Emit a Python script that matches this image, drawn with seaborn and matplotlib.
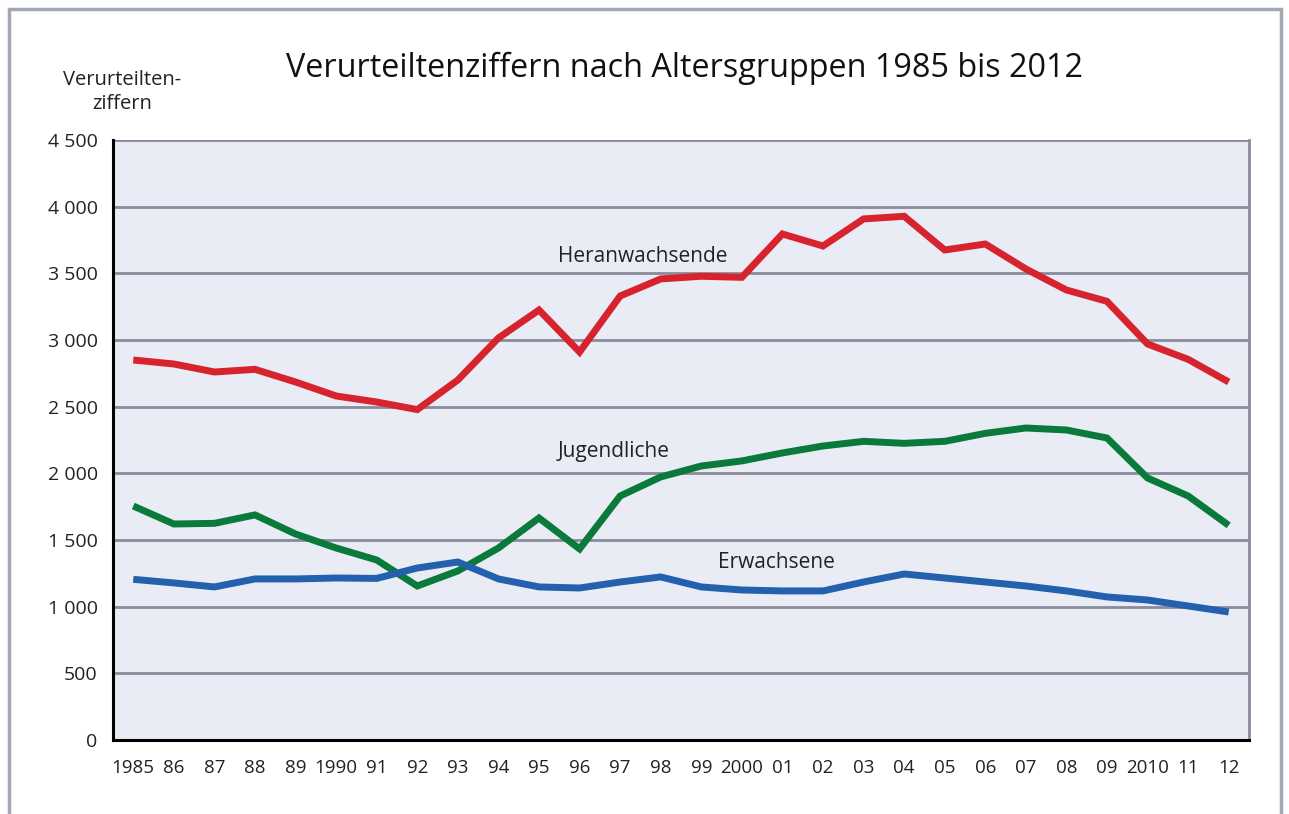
import matplotlib
matplotlib.use("Agg")
import matplotlib.pyplot as plt
from matplotlib.patches import Rectangle
import seaborn as sns
import pandas as pd
import numpy as np

years = list(range(1985, 2013))
year_labels = ["1985", "86", "87", "88", "89", "1990", "91", "92", "93", "94",
               "95", "96", "97", "98", "99", "2000", "01", "02", "03", "04",
               "05", "06", "07", "08", "09", "2010", "11", "12"]

heranwachsende = [2850, 2820, 2760, 2780, 2685, 2580, 2535, 2478, 2700, 3015,
                  3225, 2910, 3330, 3458, 3478, 3470, 3795, 3705, 3908, 3928,
                  3675, 3720, 3533, 3375, 3290, 2970, 2855, 2685]
jugendliche = [1755, 1620, 1625, 1688, 1545, 1440, 1350, 1155, 1268, 1440,
               1665, 1433, 1830, 1973, 2055, 2093, 2153, 2205, 2240, 2225,
               2240, 2300, 2340, 2325, 2265, 1965, 1830, 1610]
erwachsene = [1205, 1178, 1148, 1208, 1208, 1215, 1212, 1290, 1335, 1208,
              1148, 1140, 1185, 1223, 1148, 1125, 1118, 1118, 1185, 1245,
              1215, 1185, 1155, 1118, 1073, 1050, 1005, 960]

series_names = ["Heranwachsende", "Jugendliche", "Erwachsene"]
colors = ["#d6232d", "#0a7a3b", "#2360ad"]

df = pd.DataFrame({
    "idx": list(range(len(years))) * 3,
    "value": heranwachsende + jugendliche + erwachsene,
    "Gruppe": [s for s in series_names for _ in years],
})

sns.set_theme(style="white")
plt.rcParams["font.family"] = ["Open Sans", "DejaVu Sans"]

fig = plt.figure(figsize=(12.89, 8.14), dpi=100)
ax = fig.add_axes([113/1289, 1-740/814, (1249-113)/1289, 600/814])
ax.set_facecolor("#e9ecf5")

sns.lineplot(data=df, x="idx", y="value", hue="Gruppe", palette=colors,
             linewidth=5.0, legend=False, ax=ax, zorder=3)
for ln in ax.lines:
    ln.set_solid_joinstyle("miter")
    ln.set_solid_capstyle("butt")

ax.set_xlim(-0.5, len(years) - 0.5)
ax.set_ylim(0, 4500)

yt = np.arange(0, 4501, 500)
ax.set_yticks(yt)
ax.set_yticklabels([f"{v:,}".replace(",", " ") for v in yt], fontsize=14, color="#222222")
for v in yt[1:]:
    ax.axhline(v, color="#8a8b9b", lw=2.0, zorder=1)

ax.set_xticks(np.arange(-0.5, len(years)), labels=[""] * (len(years) + 1))
ax.set_xticks(np.arange(len(years)), labels=year_labels, minor=True)
ax.tick_params(axis="x", which="major", length=6, width=2, color="black", direction="out")
ax.tick_params(axis="x", which="minor", length=0, pad=14, labelsize=13.5, labelcolor="#222222")
ax.tick_params(axis="y", length=7, width=2, color="black", direction="out", pad=4)
ax.set_xlabel("")
ax.set_ylabel("")

for s in ["left", "bottom"]:
    ax.spines[s].set_color("black")
    ax.spines[s].set_linewidth(2.2)
ax.spines["right"].set_color("#8a8b9b")
ax.spines["right"].set_linewidth(2.0)
ax.spines["top"].set_visible(False)

ax.text(10.47, 3630, "Heranwachsende", fontsize=15, color="#222222", va="center", ha="left")
ax.text(10.47, 2165, "Jugendliche", fontsize=15, color="#222222", va="center", ha="left")
ax.text(14.41, 1335, "Erwachsene", fontsize=15, color="#222222", va="center", ha="left")

fig.text(685/1289, 1-68/814, "Verurteiltenziffern nach Altersgruppen 1985 bis 2012",
         fontsize=23.3, ha="center", va="center", color="#111111")
fig.text(122/1289, 1-92/814, "Verurteilten-\nziffern", fontsize=14.5,
         ha="center", va="center", color="#222222", linespacing=1.3)

fig.patches.append(Rectangle((9/1289, -0.05), (1281-9)/1289, 1.05 - 9/814,
                             transform=fig.transFigure, fill=False,
                             edgecolor="#a0a8b4", linewidth=2.5))

fig.savefig("out.png", dpi=100)
